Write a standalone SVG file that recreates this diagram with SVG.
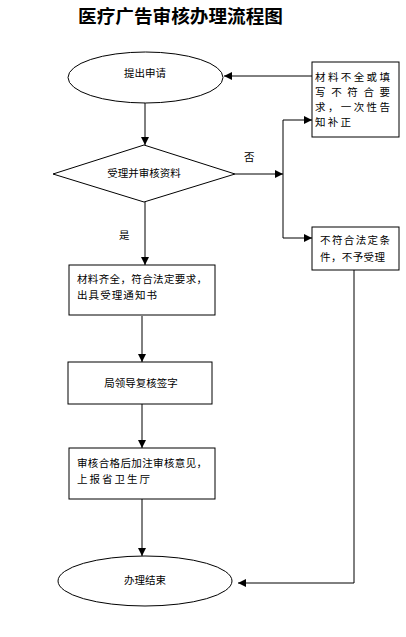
<svg xmlns="http://www.w3.org/2000/svg" width="406" height="637" viewBox="0 0 406 637">
<style>
.s{fill:#fff;stroke:#000;stroke-width:1}
.t{font-family:"Noto Sans CJK SC","Noto Sans",sans-serif;font-size:10.5px;fill:#000}
.c{stroke:#000;stroke-width:1;fill:none}
.title{font-family:"Noto Sans CJK SC","Noto Sans",sans-serif;font-size:18px;font-weight:bold;fill:#000}
</style>
<defs>
<marker id="a" viewBox="0 0 8 8" refX="8" refY="4" markerWidth="8" markerHeight="8" markerUnits="userSpaceOnUse" orient="auto">
<path d="M0,0 L8,4 L0,8 z" fill="#000"/>
</marker>
</defs>
<rect width="406" height="637" fill="#fff"/>
<text class="title" x="78" y="23" textLength="205" lengthAdjust="spacingAndGlyphs">医疗广告审核办理流程图</text>
<g id="connectors">
<line class="c" x1="145" y1="103" x2="145" y2="145" marker-end="url(#a)"/>
<line class="c" x1="235" y1="174" x2="283" y2="174" marker-end="url(#a)"/>
<line class="c" x1="283" y1="120" x2="283" y2="238"/>
<line class="c" x1="283" y1="120" x2="312" y2="120" marker-end="url(#a)"/>
<line class="c" x1="283" y1="238" x2="312" y2="238" marker-end="url(#a)"/>
<line class="c" x1="312" y1="76" x2="224" y2="76" marker-end="url(#a)"/>
<line class="c" x1="145" y1="202" x2="145" y2="265" marker-end="url(#a)"/>
<line class="c" x1="142" y1="316" x2="142" y2="362" marker-end="url(#a)"/>
<line class="c" x1="142" y1="404" x2="142" y2="448" marker-end="url(#a)"/>
<line class="c" x1="142" y1="499" x2="142" y2="556" marker-end="url(#a)"/>
<polyline class="c" points="354,270 354,583 238,583" marker-end="url(#a)"/>
<text class="t" x="244" y="161">否</text>
<text class="t" x="119" y="239">是</text>
</g>
<g id="n1">
<ellipse class="s" cx="145.5" cy="77.5" rx="77.5" ry="25.5" stroke="#333"/>
<text class="t" x="145" y="77" text-anchor="middle">提出申请</text>
</g>
<g id="n2">
<rect class="s" x="312" y="62" width="87" height="75"/>
<text class="t" x="315" y="81" textLength="75" lengthAdjust="spacing">材料不全或填</text>
<text class="t" x="315" y="96" textLength="75" lengthAdjust="spacing">写不符合要</text>
<text class="t" x="315" y="111" textLength="75" lengthAdjust="spacing">求，一次性告</text>
<text class="t" x="315" y="126" textLength="36" lengthAdjust="spacing">知补正</text>
</g>
<g id="n3">
<polygon class="s" points="53,174 144,145 235,174 144,202"/>
<text class="t" x="144" y="177" text-anchor="middle">受理并审核资料</text>
</g>
<g id="n4">
<rect class="s" x="312" y="227" width="87" height="43"/>
<text class="t" x="320" y="244" textLength="70" lengthAdjust="spacing">不符合法定条</text>
<text class="t" x="320" y="261" textLength="65" lengthAdjust="spacing">件，不予受理</text>
</g>
<g id="n5">
<rect class="s" x="69" y="265" width="146" height="50"/>
<text class="t" x="77" y="283" textLength="130" lengthAdjust="spacing">材料齐全，符合法定要求，</text>
<text class="t" x="77" y="299" textLength="80" lengthAdjust="spacing">出具受理通知书</text>
</g>
<g id="n6">
<rect class="s" x="68" y="362" width="144" height="42"/>
<text class="t" x="141" y="387" text-anchor="middle">局领导复核签字</text>
</g>
<g id="n7">
<rect class="s" x="69" y="448" width="146" height="51"/>
<text class="t" x="77" y="467" textLength="130" lengthAdjust="spacing">审核合格后加注审核意见，</text>
<text class="t" x="77" y="483" textLength="73" lengthAdjust="spacing">上报省卫生厅</text>
</g>
<g id="n8">
<ellipse class="s" cx="145" cy="581" rx="87" ry="25" stroke="#333"/>
<text class="t" x="145" y="584" text-anchor="middle">办理结束</text>
</g>
</svg>
